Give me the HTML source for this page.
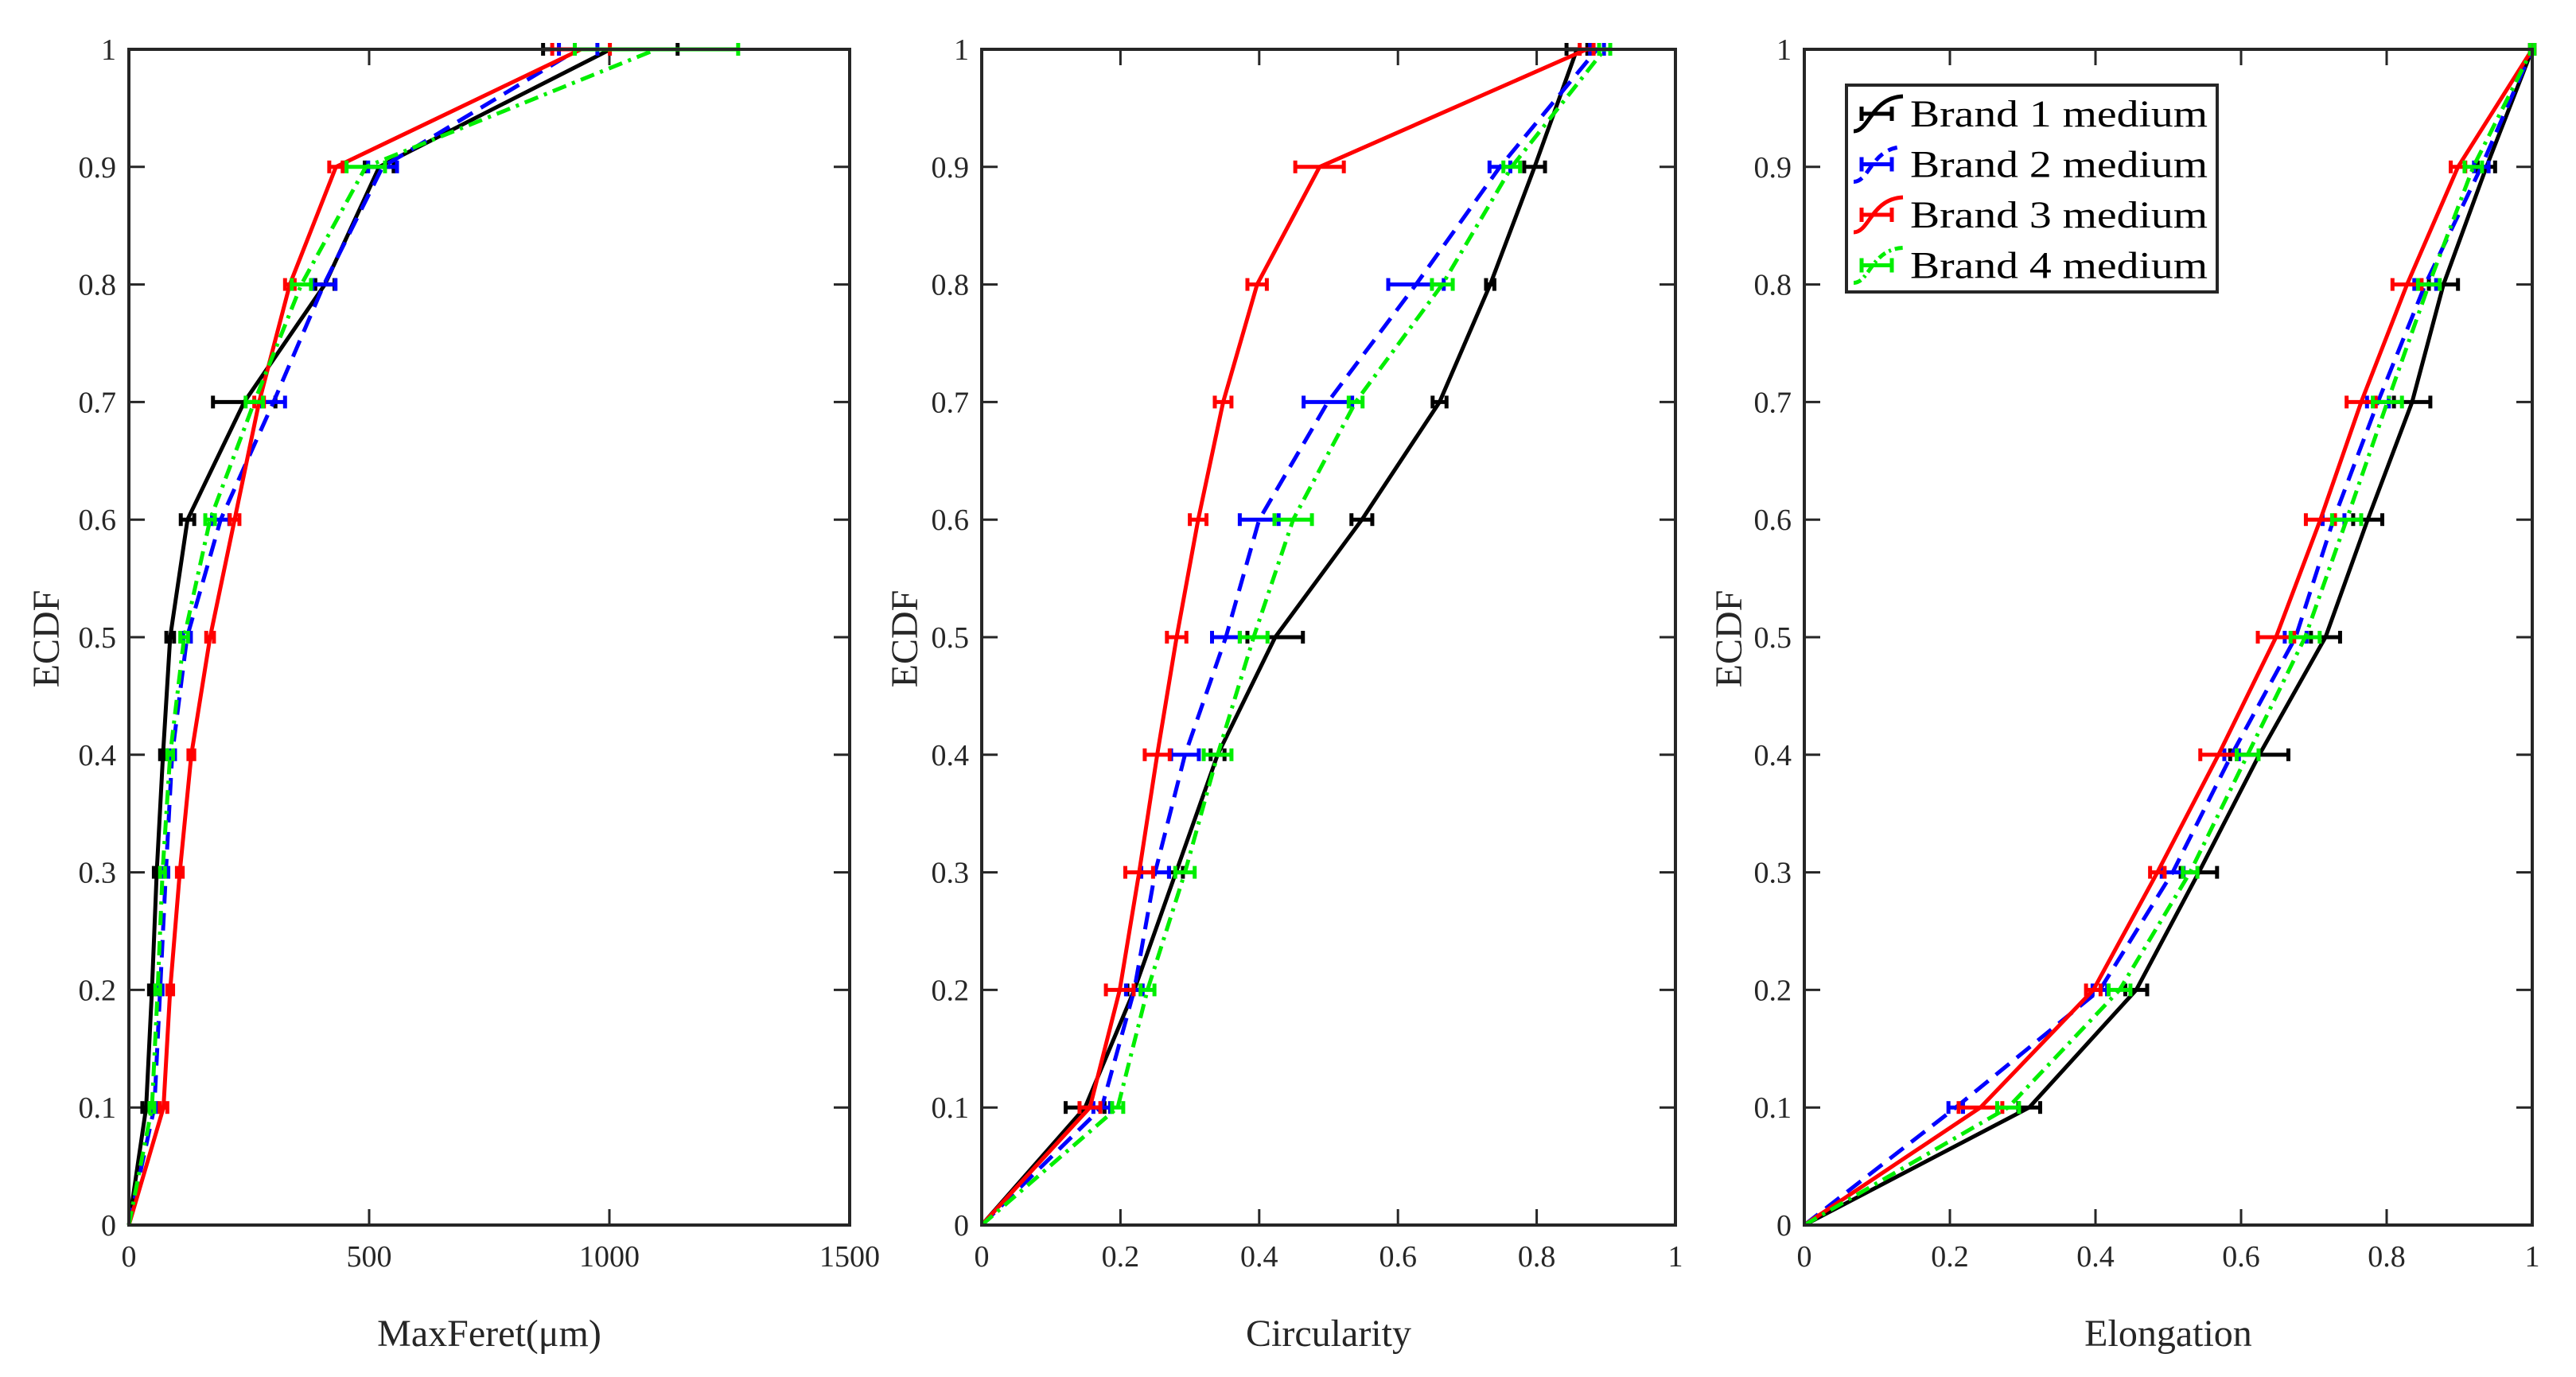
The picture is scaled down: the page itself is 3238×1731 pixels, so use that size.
<!DOCTYPE html>
<html><head><meta charset="utf-8"><style>
html,body{margin:0;padding:0;background:#fff;}
svg{display:block;font-family:"Liberation Serif",serif;}
</style></head><body>
<svg id="fig" width="3238" height="1731" viewBox="0 0 3238 1731" xmlns="http://www.w3.org/2000/svg"></svg>
<script>
const levels = [0,0.1,0.2,0.3,0.4,0.5,0.6,0.7,0.8,0.9,1];
const yTicks = ["0","0.1","0.2","0.3","0.4","0.5","0.6","0.7","0.8","0.9","1"];
// Panel 1: MaxFeret
const feretTicks = [0,500,1000,1500];
const feretB1 = [0,36,48,58,71,86,122,240,408,521,1002];
const feretB2 = [0,53,65,77,90,121,191,301,406,528,935];
const feretB3 = [0,72,86,106,130,169,220,271,335,431,941];
const feretB4 = [0,48,60,70,86,115,169,261,359,493,1098];
const feretE1 = [0,8,6,6,6,8,14,65,20,30,140];
const feretE2 = [0,5,5,5,6,8,18,24,24,30,40];
const feretE3 = [0,8,6,6,6,8,10,10,10,14,60];
const feretE4 = [0,5,5,5,6,8,10,18,20,40,170];
// Panel 2: Circularity
const circTicks = [0,0.2,0.4,0.6,0.8,1];
const circB1 = [0,0.149,0.22,0.28,0.34,0.423,0.548,0.66,0.733,0.797,0.858];
const circB2 = [0,0.173,0.22,0.25,0.293,0.352,0.40,0.499,0.626,0.747,0.887];
const circB3 = [0,0.156,0.199,0.227,0.253,0.281,0.312,0.348,0.397,0.487,0.872];
const circB4 = [0,0.196,0.239,0.293,0.34,0.392,0.449,0.539,0.664,0.764,0.898];
const circE1 = [0,0.028,0.01,0.01,0.01,0.04,0.015,0.01,0.006,0.015,0.015];
const circE2 = [0,0.012,0.012,0.02,0.02,0.02,0.028,0.035,0.04,0.015,0.01];
const circE3 = [0,0.015,0.02,0.02,0.018,0.014,0.012,0.012,0.014,0.035,0.01];
const circE4 = [0,0.008,0.01,0.014,0.02,0.02,0.027,0.01,0.015,0.012,0.008];
// Panel 3: Elongation
const elonTicks = [0,0.2,0.4,0.6,0.8,1];
const elonB1 = [0,0.309,0.456,0.542,0.625,0.716,0.774,0.835,0.878,0.937,1];
const elonB2 = [0,0.208,0.406,0.506,0.587,0.675,0.727,0.788,0.853,0.93,1];
const elonB3 = [0,0.242,0.397,0.485,0.569,0.648,0.709,0.765,0.828,0.898,1];
const elonB4 = [0,0.28,0.433,0.53,0.609,0.688,0.745,0.801,0.858,0.919,1];
const elonE1 = [0,0.015,0.015,0.025,0.04,0.02,0.02,0.025,0.02,0.012,0.003];
const elonE2 = [0,0.01,0.01,0.015,0.01,0.015,0.015,0.015,0.015,0.01,0.003];
const elonE3 = [0,0.03,0.01,0.01,0.025,0.025,0.02,0.02,0.02,0.01,0.003];
const elonE4 = [0,0.015,0.015,0.01,0.015,0.02,0.02,0.02,0.015,0.012,0.003];
const legendLabels = ["Brand 1 medium","Brand 2 medium","Brand 3 medium","Brand 4 medium"];

const NS="http://www.w3.org/2000/svg";
const svg=document.getElementById('fig');
function mk(tag,attrs,parent){const e=document.createElementNS(NS,tag);for(const k in attrs)e.setAttribute(k,attrs[k]);(parent||svg).appendChild(e);return e;}
const colors=["#000000","#0000ff","#ff0000","#00ee00"];
const dashes=["none","22 12","none","18 8 4 8"];
const Y0=1540,Y1=62;
function yS(v){return Y0+(Y1-Y0)*v;}

const panels=[
 {name:"maxferet",x0:162,x1:1068,max:1500,ticks:feretTicks,title:"MaxFeret(μm)",series:[feretB1,feretB2,feretB3,feretB4],errs:[feretE1,feretE2,feretE3,feretE4],ylabX:58},
 {name:"circularity",x0:1234,x1:2106,max:1,ticks:circTicks,title:"Circularity",series:[circB1,circB2,circB3,circB4],errs:[circE1,circE2,circE3,circE4],ylabX:1137},
 {name:"elongation",x0:2268,x1:3183,max:1,ticks:elonTicks,title:"Elongation",series:[elonB1,elonB2,elonB3,elonB4],errs:[elonE1,elonE2,elonE3,elonE4],ylabX:2173}
];

panels.forEach(p=>{
 const g=mk('g',{});
 
 
 const xS=v=>p.x0+(p.x1-p.x0)*v/p.max;
 yTicks.forEach((t,i)=>{
  const y=yS(levels[i]);
  mk('line',{x1:p.x0,y1:y,x2:p.x0+20,y2:y,stroke:'#262626','stroke-width':3},g);
  mk('line',{x1:p.x1,y1:y,x2:p.x1-20,y2:y,stroke:'#262626','stroke-width':3},g);
  const tx=mk('text',{x:p.x0-16,y:y+13,'font-size':38,'text-anchor':'end',fill:'#262626'},g);
  tx.textContent=t;
  
  
 });
 p.ticks.forEach(t=>{
  const x=xS(t);
  mk('line',{x1:x,y1:Y0,x2:x,y2:Y0-20,stroke:'#262626','stroke-width':3},g);
  mk('line',{x1:x,y1:Y1,x2:x,y2:Y1+20,stroke:'#262626','stroke-width':3},g);
  const tx=mk('text',{x:x,y:Y0+52,'font-size':38,'text-anchor':'middle',fill:'#262626'},g);
  tx.textContent=String(t);
  
  
 });
 p.series.forEach((s,si)=>{
  const sg=mk('g',{},g);
  
  
  const pts=s.map((v,i)=>xS(v).toFixed(1)+','+yS(levels[i]).toFixed(1)).join(' ');
  const pl=mk('polyline',{points:pts,fill:'none',stroke:colors[si],'stroke-width':5,'stroke-linejoin':'round'},sg);
  if(dashes[si]!=="none")pl.setAttribute('stroke-dasharray',dashes[si]);
  s.forEach((v,i)=>{
   if(i===0)return;
   const e=p.errs[si][i];const y=yS(levels[i]);
   const xa=xS(v-e),xb=xS(v+e);
   const eb=mk('g',{stroke:colors[si],'stroke-width':5},sg);
   
   
   mk('line',{x1:xa,y1:y,x2:xb,y2:y},eb);
   mk('line',{x1:xa,y1:y-8,x2:xa,y2:y+8},eb);
   mk('line',{x1:xb,y1:y-8,x2:xb,y2:y+8},eb);
  });
 });
 const fr=mk('rect',{x:p.x0,y:Y1,width:p.x1-p.x0,height:Y0-Y1,fill:'none',stroke:'#262626','stroke-width':4},g);
 
 
 const xt=mk('text',{x:(p.x0+p.x1)/2,y:1692,'font-size':48,'text-anchor':'middle',fill:'#262626'},g);
 xt.textContent=p.title;
 
 
 const yt=mk('text',{x:0,y:0,'font-size':48,'text-anchor':'middle',fill:'#262626',transform:`translate(${p.ylabX+16},803) rotate(-90)`},g);
 yt.textContent="ECDF";
 
 
});

const lg=mk('g',{});


mk('rect',{x:2321,y:107,width:466,height:260,fill:'#fff',stroke:'#262626','stroke-width':4},lg);
legendLabels.forEach((l,i)=>{
 const cy=143+i*63.5;
 const eg=mk('g',{},lg);
 
 
 const ln=mk('path',{d:`M2330,${cy+22} C2350,${cy+22} 2352,${cy-20} 2392,${cy-22}`,fill:'none',stroke:colors[i],'stroke-width':5},eg);
 if(dashes[i]!=="none")ln.setAttribute('stroke-dasharray',dashes[i]==="22 12"?"12 8":"10 5 3 5");
 mk('line',{x1:2340,y1:cy,x2:2378,y2:cy,stroke:colors[i],'stroke-width':5},eg);
 mk('line',{x1:2340,y1:cy-9,x2:2340,y2:cy+9,stroke:colors[i],'stroke-width':5},eg);
 mk('line',{x1:2378,y1:cy-9,x2:2378,y2:cy+9,stroke:colors[i],'stroke-width':5},eg);
 const t=mk('text',{x:2401,y:cy+16,'font-size':48,fill:'#000',textLength:374,lengthAdjust:'spacingAndGlyphs'},eg);
 t.textContent=l;
});
</script>
</body></html>
